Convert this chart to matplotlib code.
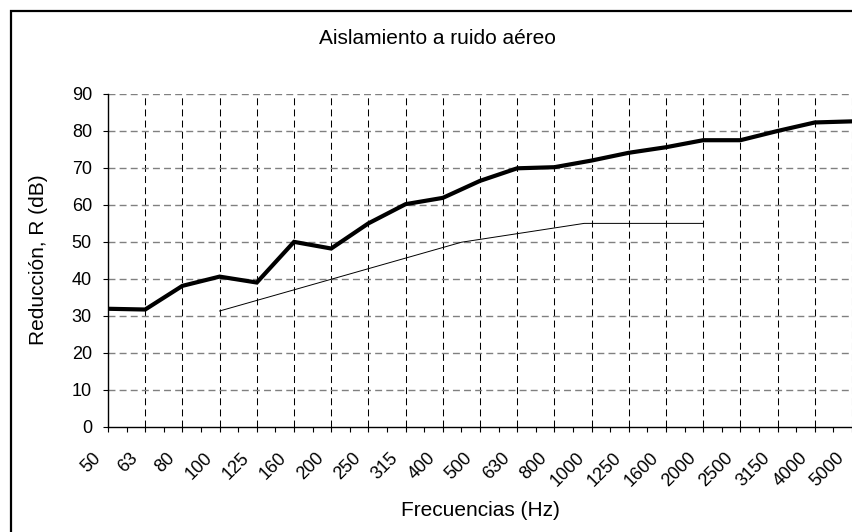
import numpy as np
import matplotlib
matplotlib.use('Agg')
import matplotlib.pyplot as plt
import matplotlib.transforms as mtransforms
from matplotlib.patches import Rectangle
from matplotlib.ticker import MultipleLocator

plt.rcParams['font.family'] = ['Liberation Sans', 'DejaVu Sans']
plt.rcParams['lines.scale_dashes'] = False

# third-octave bands (Hz)
freqs = ['50', '63', '80', '100', '125', '160', '200', '250', '315', '400',
         '500', '630', '800', '1000', '1250', '1600', '2000', '2500', '3150',
         '4000', '5000']
# measured reduction R (dB)
r_meas = [31.9, 31.7, 38.1, 40.6, 39.0, 50.0, 48.2, 55.0, 60.2, 61.9,
          66.5, 69.9, 70.2, 72.0, 74.1, 75.6, 77.5, 77.5, 80.0, 82.3, 82.6]
# shifted reference curve (position in bands, dB)
ref_pos = [3, 9.5, 12.8, 16]
ref_val = [31.3, 49.9, 55.0, 55.0]

W, H = 852, 532
fig = plt.figure(figsize=(W / 100, H / 100), dpi=100)
ax = fig.add_axes([108 / W, 1 - 426.7 / H, (W - 108) / W, (426.7 - 94) / H])

x = np.arange(len(freqs))
ax.plot(x, r_meas, color='black', lw=3.0, solid_joinstyle='miter', zorder=4)
ax.plot(ref_pos, ref_val, color='black', lw=0.7, zorder=3)

ax.set_xlim(0, len(freqs) - 1)
ax.set_ylim(0, 90)
ax.set_yticks(np.arange(0, 91, 10))
ax.set_xticks(x)
ax.xaxis.set_minor_locator(MultipleLocator(0.5))
ax.tick_params(axis='x', labelbottom=False)

# rotated band labels, placed under each tick
trans = mtransforms.blended_transform_factory(ax.transData, ax.transAxes)
trans = trans + mtransforms.ScaledTranslation(-10 / 100, -29 / 100, fig.dpi_scale_trans)
for i, f in zip(x, freqs):
    ax.text(i, 0, f, transform=trans, rotation=45, ha='right', va='center',
            rotation_mode='anchor', fontsize=13, clip_on=False)

# grid
for i in x[1:]:
    ax.axvline(i, color='black', lw=0.75, dashes=(5, 3), zorder=1)
for v in range(10, 91, 10):
    ax.axhline(v, color='#808080', lw=1.0, dashes=(5, 3), zorder=1)

for s in ['top', 'right']:
    ax.spines[s].set_visible(False)
ax.spines['left'].set_linewidth(1.0)
ax.spines['bottom'].set_linewidth(1.0)
ax.tick_params(axis='y', direction='out', length=3.6, width=0.8, labelsize=13, pad=8)
ax.tick_params(axis='x', which='both', direction='out', length=3.6, width=0.8)

fig.text(437 / W, 1 - 39 / H, 'Aislamiento a ruido aéreo', ha='center', va='center', fontsize=15)
fig.text(480 / W, 1 - 510 / H, 'Frecuencias (Hz)', ha='center', va='center', fontsize=15)
fig.text(39 / W, 1 - 260 / H, 'Reducción, R (dB)', ha='center', va='center',
         rotation=90, fontsize=15)

# outer chart frame (only top/left visible)
fig.add_artist(Rectangle((10.5 / W, -0.2), 1.5, 1.2 - 11 / H, transform=fig.transFigure,
                         fill=False, ec='black', lw=1.6))

fig.savefig('out.png', dpi=100)
